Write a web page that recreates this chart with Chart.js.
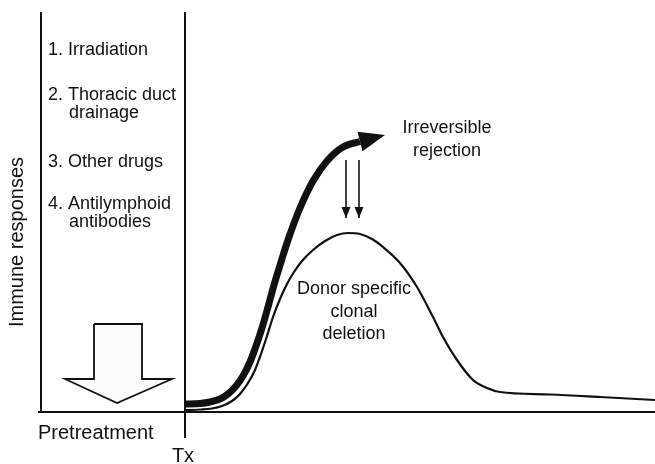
<!DOCTYPE html>
<html><head><meta charset="utf-8">
<script src="https://cdn.jsdelivr.net/npm/chart.js@4.4.1/dist/chart.umd.min.js"></script>
<style>html,body{margin:0;padding:0;background:#fff;}canvas{display:block;}</style>
</head><body>
<canvas id="c" width="655" height="464"></canvas>
<script>
// ---- data (x: time units, Tx = 0; y: immune response, 0..100) ----
const clonalX = [0, 3, 5.4, 7.4, 9.4, 11, 12.6, 14, 15.2, 16.4, 17.6, 19, 20.4, 21.8, 23.4, 25.6, 28, 30.4, 32.6, 35, 37.4, 39.6, 43, 46.4, 49.6, 51.6, 54.4, 57.6, 60.4, 63, 73, 83, 94];
const clonalY = [0.5, 0.625, 0.875, 1.5, 2.75, 4.5, 7.25, 10.5, 14.5, 19, 23.75, 28.25, 32, 35, 37.75, 40.5, 42.75, 44.25, 44.75, 44.5, 43.25, 41.25, 37.25, 31.25, 23.75, 18.75, 13, 8, 6, 5, 4.375, 3.75, 3];
const rejectionX = [0, 3, 5, 7, 8.6, 10.2, 11.6, 13, 14.2, 15.4, 16.6, 17.8, 19.2, 20.6, 23, 25.6, 28.4, 31.6, 35];
const rejectionY = [2, 2.125, 2.5, 3.25, 4.5, 6.5, 9, 12.5, 16.5, 21, 26.25, 31.75, 37.5, 43, 51, 57.75, 62.75, 66.25, 67.625];
const rejectionTip = [40, 69.25];
const signalArrowX = [32.2, 34.8];
const signalArrowTop = 63;
const signalArrowBottom = 48.5;
const pretreatArrowX = [-18.2, -8.6, -8.6, -2.6, -13.6, -24, -18.2, -18.2];
const pretreatArrowY = [22, 22, 8.25, 8.25, 2.25, 8.25, 8.25, 22];
const txValue = 0;

const methodLabels = ["1. Irradiation", "2. Thoracic duct", "drainage", "3. Other drugs", "4. Antilymphoid", "antibodies"];
const methodX = [-27.4, -27.4, -23.2, -27.4, -27.4, -23.2];
const methodY = [89.25, 78, 73.5, 61.25, 50.75, 46.25];
const rejectionLabel = ["Irreversible", "rejection"];
const rejectionLabelX = 52.4;
const rejectionLabelY = [69.75, 64];
const deletionLabel = ["Donor specific", "clonal", "deletion"];
const deletionLabelX = 33.8;
const deletionLabelY = [29.5, 23.75, 18.25];
const yAxisTitle = "Immune responses";
const yAxisTitleY = 42.5;
const xLabels = ["Pretreatment", "Tx"];

const zip = (xs, ys) => xs.map((x, i) => ({x, y: ys[i]}));
const INK = '#111';
const FONT = '"Liberation Sans", Arial, Helvetica, sans-serif';

const base = {showLine: true, pointRadius: 0, pointHoverRadius: 0, fill: false};

const datasets = [
  Object.assign({}, base, {label: 'rejection', data: zip(rejectionX, rejectionY), borderColor: INK, borderWidth: 7,
    cubicInterpolationMode: 'monotone', order: 0, arrowTip: rejectionTip, arrowHalf: 10}),
  Object.assign({}, base, {label: 'halo', data: zip(rejectionX, rejectionY), borderColor: '#fff', borderWidth: 9.5,
    cubicInterpolationMode: 'monotone', order: 1}),
  Object.assign({}, base, {label: 'clonal', data: zip(clonalX, clonalY), borderColor: INK, borderWidth: 2.2,
    cubicInterpolationMode: 'monotone', order: 2}),
  ...signalArrowX.map(x => Object.assign({}, base, {label: 'signal', data: [{x, y: signalArrowTop}, {x, y: signalArrowBottom}],
    borderColor: INK, borderWidth: 1.6, order: 0, arrowHead: {length: 11, half: 4.5}})),
  Object.assign({}, base, {label: 'pretreat', data: zip(pretreatArrowX, pretreatArrowY), borderColor: INK, borderWidth: 1.8,
    backgroundColor: '#fbfbfb', fill: 'shape', tension: 0, borderJoinStyle: 'miter', order: 3})
];

const overlay = {
  id: 'overlay',
  afterDatasetsDraw(chart) {
    const ctx = chart.ctx, ca = chart.chartArea;
    const xs = chart.scales.x, ys = chart.scales.y;
    ctx.save();
    // arrow heads
    chart.data.datasets.forEach((ds, i) => {
      const pts = chart.getDatasetMeta(i).data;
      if (ds.arrowTip) {
        const b = pts[pts.length - 1];
        const tx = xs.getPixelForValue(ds.arrowTip[0]), ty = ys.getPixelForValue(ds.arrowTip[1]);
        const a = Math.atan2(ty - b.y, tx - b.x);
        const nx = -Math.sin(a), ny = Math.cos(a);
        ctx.fillStyle = INK;
        ctx.beginPath();
        ctx.moveTo(tx, ty);
        ctx.lineTo(b.x + nx * ds.arrowHalf, b.y + ny * ds.arrowHalf);
        ctx.lineTo(b.x - nx * ds.arrowHalf, b.y - ny * ds.arrowHalf);
        ctx.closePath(); ctx.fill();
      }
      if (ds.arrowHead) {
        const t = pts[pts.length - 1], p = pts[pts.length - 2];
        const a = Math.atan2(t.y - p.y, t.x - p.x);
        const bx = t.x - Math.cos(a) * ds.arrowHead.length, by = t.y - Math.sin(a) * ds.arrowHead.length;
        const nx = -Math.sin(a), ny = Math.cos(a), h = ds.arrowHead.half;
        ctx.fillStyle = INK;
        ctx.beginPath();
        ctx.moveTo(t.x, t.y);
        ctx.lineTo(bx + nx * h, by + ny * h);
        ctx.lineTo(bx - nx * h, by - ny * h);
        ctx.closePath(); ctx.fill();
      }
    });
    // axes
    ctx.strokeStyle = INK; ctx.lineWidth = 2; ctx.lineCap = 'butt';
    ctx.beginPath();
    ctx.moveTo(ca.left, ca.top); ctx.lineTo(ca.left, ca.bottom);
    ctx.moveTo(ca.left - 3, ca.bottom); ctx.lineTo(ca.right, ca.bottom);
    const txp = xs.getPixelForValue(txValue);
    ctx.moveTo(txp, ca.top); ctx.lineTo(txp, ca.bottom + 26);
    ctx.stroke();
    // text
    ctx.fillStyle = INK;
    ctx.textBaseline = 'alphabetic';
    ctx.font = '18px ' + FONT;
    ctx.textAlign = 'left';
    methodLabels.forEach((t, i) => ctx.fillText(t, xs.getPixelForValue(methodX[i]), ys.getPixelForValue(methodY[i])));
    ctx.textAlign = 'center';
    rejectionLabel.forEach((t, i) => ctx.fillText(t, xs.getPixelForValue(rejectionLabelX), ys.getPixelForValue(rejectionLabelY[i])));
    deletionLabel.forEach((t, i) => ctx.fillText(t, xs.getPixelForValue(deletionLabelX), ys.getPixelForValue(deletionLabelY[i])));
    ctx.font = '20px ' + FONT;
    ctx.textAlign = 'left';
    ctx.fillText(xLabels[0], ca.left - 3, ca.bottom + 27);
    ctx.textAlign = 'center';
    ctx.fillText(xLabels[1], txp - 2, ca.bottom + 50);
    ctx.save();
    ctx.translate(ca.left - 24, ys.getPixelForValue(yAxisTitleY));
    ctx.rotate(-Math.PI / 2);
    ctx.textBaseline = 'middle';
    ctx.fillText(yAxisTitle, 0, 0);
    ctx.restore();
    ctx.restore();
  }
};

new Chart(document.getElementById('c'), {
  type: 'scatter',
  data: {datasets},
  options: {
    responsive: false,
    devicePixelRatio: 1,
    animation: false,
    events: [],
    layout: {padding: {left: 41, right: 0, top: 12, bottom: 52}},
    scales: {
      x: {type: 'linear', min: -28.8, max: 94, display: false},
      y: {type: 'linear', min: 0, max: 100, display: false}
    },
    plugins: {legend: {display: false}, tooltip: {enabled: false}}
  },
  plugins: [overlay]
});
</script>
</body></html>
